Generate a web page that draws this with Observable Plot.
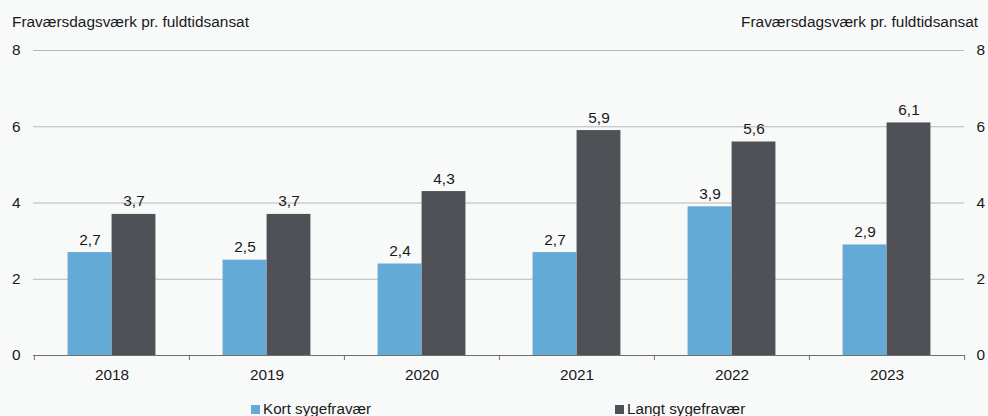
<!DOCTYPE html>
<html>
<head>
<meta charset="utf-8">
<script src="https://cdn.jsdelivr.net/npm/d3@7"></script>
<script src="https://cdn.jsdelivr.net/npm/@observablehq/plot@0.6"></script>
<style>
  html, body { margin: 0; padding: 0; background: #f8f9f9; }
  #wrap { position: relative; width: 988px; height: 416px; overflow: hidden; font-family: "Liberation Sans", Arial, sans-serif; color: #1a1a1a; }
  .ttl { position: absolute; top: 14px; font-size: 15.4px; line-height: 15px; white-space: nowrap; }
  #legend { position: absolute; top: 401px; left: 0; width: 988px; height: 20px; font-size: 15.2px; line-height: 15px; }
  .item { position: absolute; white-space: nowrap; }
  .sw { display: inline-block; width: 9px; height: 9px; margin-right: 3px; vertical-align: 0px; }
  #chart { position: absolute; top: 0; left: 0; }
</style>
</head>
<body>
<div id="wrap">
  <div id="chart"></div>
  <div class="ttl" style="left:12px">Fraværsdagsværk pr. fuldtidsansat</div>
  <div class="ttl" style="right:10px">Fraværsdagsværk pr. fuldtidsansat</div>
  <div id="legend"></div>
</div>
<script>
const years = ["2018", "2019", "2020", "2021", "2022", "2023"];
const kort = [2.7, 2.5, 2.4, 2.7, 3.9, 2.9];
const langt = [3.7, 3.7, 4.3, 5.9, 5.6, 6.1];
const seriesNames = ["Kort sygefravær", "Langt sygefravær"];
const colors = ["#64aad6", "#505156"];
const yTicks = [0, 2, 4, 6, 8];
const gridTicks = [2, 4, 6, 8];

const kortData = years.map((y, i) => ({year: y, value: kort[i]}));
const langtData = years.map((y, i) => ({year: y, value: langt[i]}));

const W = 988, H = 395;
const mL = 33, mR = 24, mT = 50, mB = 40;
const bw = (W - mL - mR) / years.length;
const barW = 44;
const outer = (bw - 2 * barW) / 2;
const fs = 15.4;
const fmt = v => d3.format(".1f")(v).replace(".", ",");

const plot = Plot.plot({
  width: W,
  height: H,
  marginLeft: mL,
  marginRight: mR,
  marginTop: mT,
  marginBottom: mB,
  style: {background: "transparent", fontFamily: "Liberation Sans, Arial, sans-serif", fontSize: fs + "px", color: "#1a1a1a"},
  x: {domain: years, padding: 0},
  y: {domain: [0, 8]},
  marks: [
    Plot.ruleY(gridTicks, {stroke: "#b8b8b8", strokeWidth: 1}),
    Plot.barY(kortData, {x: "year", y: "value", fill: colors[0], insetLeft: outer, insetRight: bw - outer - barW}),
    Plot.barY(langtData, {x: "year", y: "value", fill: colors[1], insetLeft: outer + barW, insetRight: outer}),
    Plot.text(kortData, {x: "year", y: "value", text: d => fmt(d.value), dx: -barW / 2, dy: -8, lineAnchor: "bottom", fill: "#1a1a1a", fontSize: fs}),
    Plot.text(langtData, {x: "year", y: "value", text: d => fmt(d.value), dx: barW / 2, dy: -8, lineAnchor: "bottom", fill: "#1a1a1a", fontSize: fs}),
    Plot.ruleY([0], {stroke: "#707070", strokeWidth: 1.2}),
    Plot.axisX({tickSize: 5, tickFormat: () => "", dx: -bw / 2, stroke: "#707070", label: null}),
    Plot.axisX({ticks: [years[years.length - 1]], tickSize: 5, tickFormat: () => "", dx: bw / 2, stroke: "#707070", label: null}),
    Plot.axisX({tickSize: 0, tickPadding: 14, label: null, fontSize: fs}),
    Plot.axisY({anchor: "left", ticks: yTicks, tickSize: 0, tickPadding: 13, label: null, fontSize: fs}),
    Plot.axisY({anchor: "right", ticks: yTicks, tickSize: 0, tickPadding: 12, label: null, fontSize: fs})
  ]
});
document.getElementById("chart").appendChild(plot);

const legendPos = [251, 615];
const legend = document.getElementById("legend");
seriesNames.forEach((name, i) => {
  const it = document.createElement("div");
  it.className = "item";
  it.style.left = legendPos[i] + "px";
  it.innerHTML = `<span class="sw" style="background:${colors[i]}"></span>${name}`;
  legend.appendChild(it);
});
</script>
</body>
</html>
